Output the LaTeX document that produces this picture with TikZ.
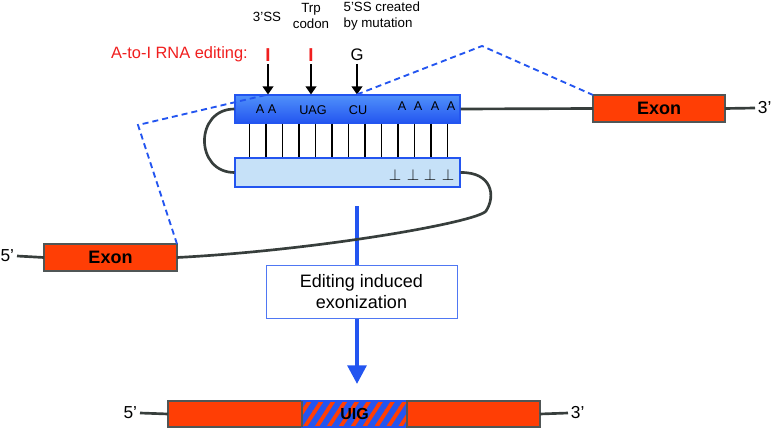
\documentclass[tikz,border=0pt]{standalone}
\usepackage{fontspec}
\setmainfont{Liberation Sans}
\usepackage{xcolor}
\definecolor{exonred}{RGB}{255,62,5}
\definecolor{exonframe}{RGB}{80,86,86}
\definecolor{strandgray}{RGB}{55,62,60}
\definecolor{editblue}{RGB}{35,85,240}
\definecolor{topblue}{RGB}{80,145,250}
\definecolor{paleblue}{RGB}{198,225,248}
\definecolor{editred}{RGB}{240,30,30}
\usepackage{tikz}
\usetikzlibrary{arrows.meta,positioning,calc,patterns.meta}
\tikzset{
  exon_box/.style={rectangle,draw=exonframe,fill=exonred,line width=1pt,inner sep=0pt,outer sep=0pt,
    minimum height=20.25pt,font=\fontsize{13.5}{16}\selectfont\bfseries},
  ds_top/.style={rectangle,draw=editblue,top color=topblue,bottom color=editblue,
    line width=0.8pt,inner sep=0pt,minimum width=168.75pt,minimum height=21pt},
  ds_bot/.style={rectangle,draw=editblue,fill=paleblue,line width=0.8pt,inner sep=0pt,
    minimum width=168.75pt,minimum height=21.75pt},
  step_box/.style={rectangle,draw=editblue!80,fill=white,line width=0.6pt,align=center,
    minimum width=143.25pt,minimum height=39.75pt,font=\fontsize{13.5}{16}\selectfont},
  lbl/.style={font=\fontsize{10}{12}\selectfont,inner sep=1pt},
  base/.style={font=\fontsize{9.5}{12}\selectfont,inner sep=0pt},
  perp_lbl/.style={font=\fontsize{12.5}{14}\selectfont,inner sep=0pt},
  end_lbl/.style={font=\fontsize{13}{15}\selectfont,inner sep=2pt},
  strand/.style={draw=strandgray,line width=2pt},
  splice/.style={draw=editblue,line width=1.4pt,dash pattern=on 4.5pt off 3pt},
  bp_line/.style={draw=black,line width=1pt},
  arr/.style={-{Triangle[width=8pt,length=6pt]},line width=1.1pt,draw=black},
  bigarr/.style={-{Triangle[width=14pt,length=14pt]},line width=3pt,draw=editblue},
}

\begin{document}
\begin{tikzpicture}[x=0.75pt,y=-0.75pt]
  \useasboundingbox (0,0) rectangle (771,428);
  \node (ssl) [lbl] at (267,17) {3’SS};
  \node (trp) [lbl,align=center] at (311,16) {Trp\\codon};
  \node (mut) [lbl,align=left,anchor=west] at (342,16) {5’SS created\\by mutation};
  \node (ate) [anchor=east,inner sep=0pt,text=editred,font=\fontsize{12.3}{14}\selectfont] at (248,54) {A-to-I RNA editing:};
  \node (e1) [text=editred,font=\fontsize{14}{16}\selectfont\bfseries,inner sep=2pt] at (268,55) {I};
  \node (e2) [text=editred,font=\fontsize{14}{16}\selectfont\bfseries,inner sep=2pt] at (311,55) {I};
  \node (g)  [font=\fontsize{12.5}{15}\selectfont,inner sep=2pt] at (357,55) {G};
  \node (exR)[exon_box,minimum width=99pt] at (659,108.5) {Exon};
  \node (exL)[exon_box,minimum width=99.75pt] at (110.5,257.5) {Exon};
  \node (p3r)[end_lbl,anchor=west] at (755,108) {3’};
  \node (p5l)[end_lbl,anchor=east] at (17,256) {5’};
  \draw[strand] (exR.east) -- (p3r.west);
  \draw[strand] (p5l.east) -- (exL.west);
  \coordinate (a0) at (357,206);
  \coordinate (a1) at (357,384);
  \draw[bigarr] (a0) -- (a1);
  \node (top)[ds_top] at (347.5,109) {};
  \node (bot)[ds_bot] at (347.5,172.5) {};
  \draw[strand] (top.east) -- (exR.west);
  \draw[strand] (top.west) .. controls +(-40,0) and +(-40,0) .. (bot.west);
  \draw[strand] (bot.east) .. controls (492,172) and (496,196) .. (486,211)
    .. controls (478,222) and (320,250) .. (exL.east);
  \foreach \i in {0,...,12}
    \draw[bp_line] ($(top.south west)+(15+16.5*\i,0)$) -- ($(bot.north west)+(15+16.5*\i,0)$);
  \node (aa) [base] at (266,109) {A A};
  \node (uag)[base] at (313,110) {UAG};
  \node (cu) [base] at (358,110) {CU};
  \foreach \x in {402,418,435,451} \node[base] at (\x,106) {A};
  \foreach \x in {395,413,430,448} \node[perp_lbl] at (\x,175) {$\perp$};
  \draw[arr] (e1) -- (e1 |- top.north);
  \draw[arr] (e2) -- (e2 |- top.north);
  \draw[arr] (g) -- (g |- top.north);
  \coordinate (dl) at (138,125);
  \coordinate (dr) at (482,46);
  \draw[splice] (exL.north east) -- (dl) -- (e1 |- top.north);
  \draw[splice] (g |- top.north) -- (dr) -- (exR.north west);
  \node (exz)[step_box] at (361.5,291.5) {Editing induced\\exonization};
  \node (mL)[exon_box,minimum width=100.5pt,minimum height=19.5pt] at (235,414) {};
  \node (mH)[exon_box,draw=editblue,minimum width=78.75pt,minimum height=19.5pt,right=0pt of mL,
    preaction={fill=exonred},pattern={Lines[angle=57,distance=7.5pt,line width=4.4pt]},
    pattern color=editblue,font=\fontsize{12}{14}\selectfont\bfseries] {UIG};
  \node (mR)[exon_box,minimum width=99.75pt,minimum height=19.5pt,right=0pt of mH] {};
  \draw[exonframe,line width=1pt] (mH.north west) -- (mH.south west);
  \node (p5b)[end_lbl,anchor=east] at (140,413) {5’};
  \node (p3b)[end_lbl,anchor=west] at (568,413) {3’};
  \draw[strand] (p5b.east) -- (mL.west);
  \draw[strand] (mR.east) -- (p3b.west);
\end{tikzpicture}
\end{document}
